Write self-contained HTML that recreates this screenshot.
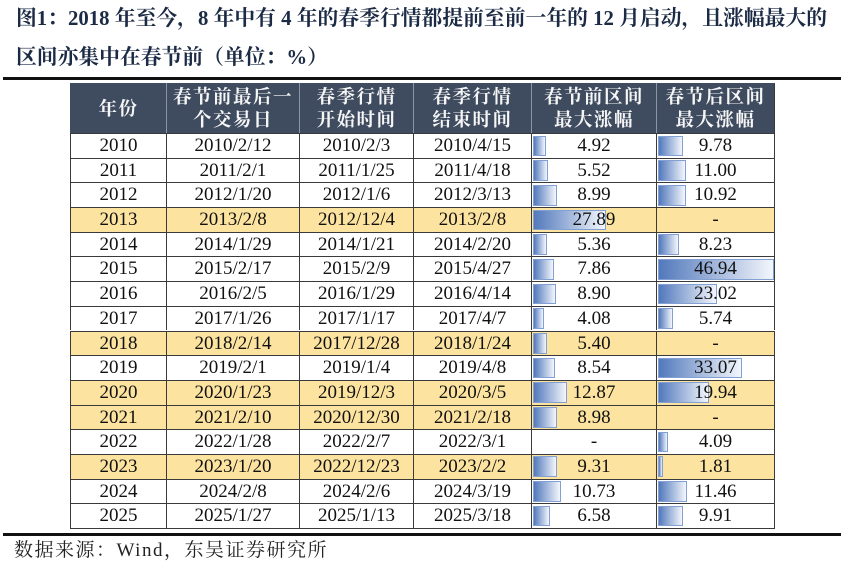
<!DOCTYPE html>
<html><head><meta charset="utf-8">
<style>
html,body{margin:0;padding:0;background:#fff;}
body{width:841px;height:569px;position:relative;overflow:hidden;}
.title{position:absolute;left:16px;font:bold 20.8px "Liberation Serif","Noto Serif CJK SC",serif;color:#1c2b45;line-height:24px;white-space:nowrap;}
.rule{position:absolute;left:3px;right:0;background:#111;}
.hdr{position:absolute;left:70px;top:83px;width:705px;height:50px;background:#3f4c60;display:flex;}
.hdr>div{box-sizing:border-box;height:100%;border-left:1px solid #8c95a3;display:flex;align-items:center;justify-content:center;text-align:center;color:#f6f6f6;font:bold 18.5px "Noto Serif CJK SC","Liberation Serif",serif;line-height:23px;letter-spacing:1.5px;}
.hdr>div:first-child{border-left:1px solid #3f4c60;}
.r{position:absolute;left:70px;width:705px;height:24.7px;display:flex;font:19px "Liberation Serif","Noto Serif CJK SC",serif;color:#111;}
.r>div{box-sizing:border-box;height:100%;border-left:1px solid #3a3a3a;border-top:1px solid #3a3a3a;text-align:center;line-height:23.5px;position:relative;}
.r>div:last-child,.hdr>div:last-child{border-right:1px solid #3a3a3a;}
.c1{width:96px}.c2{width:133px}.c3{width:114px}.c4{width:118px}.c5{width:125px}.c6{width:119px}
.y{background:#fce3a0;}
.b{position:absolute;left:1px;top:1.5px;bottom:1.5px;background:linear-gradient(to right,#5279bc,#f3f6fc);border:1px solid #82a0d4;box-sizing:border-box;}
.t{position:relative;}
.src{position:absolute;left:14px;top:540px;font:19px "Liberation Serif","Noto Serif CJK SC",serif;color:#222;letter-spacing:1.5px;line-height:22px;white-space:nowrap;}
</style></head><body>
<div class="title" style="top:7px">图1：2018 年至今，8 年中有 4 年的春季行情都提前至前一年的 12 月启动，且涨幅最大的</div>
<div class="title" style="top:46px">区间亦集中在春节前（单位：%）</div>
<div class="rule" style="top:77px;height:2.5px"></div>

<div class="hdr">
<div class="c1">年份</div>
<div class="c2">春节前最后一<br>个交易日</div>
<div class="c3">春季行情<br>开始时间</div>
<div class="c4">春季行情<br>结束时间</div>
<div class="c5">春节前区间<br>最大涨幅</div>
<div class="c6">春节后区间<br>最大涨幅</div>
</div>

<div class="r" style="top:133px"><div class="c1">2010</div><div class="c2">2010/2/12</div><div class="c3">2010/2/3</div><div class="c4">2010/4/15</div><div class="c5"><div class="b" style="width:12.9px"></div><span class="t">4.92</span></div><div class="c6"><div class="b" style="width:24.8px"></div><span class="t">9.78</span></div></div>
<div class="r" style="top:157.7px"><div class="c1">2011</div><div class="c2">2011/2/1</div><div class="c3">2011/1/25</div><div class="c4">2011/4/18</div><div class="c5"><div class="b" style="width:14.5px"></div><span class="t">5.52</span></div><div class="c6"><div class="b" style="width:27.9px"></div><span class="t">11.00</span></div></div>
<div class="r" style="top:182.4px"><div class="c1">2012</div><div class="c2">2012/1/20</div><div class="c3">2012/1/6</div><div class="c4">2012/3/13</div><div class="c5"><div class="b" style="width:23.6px"></div><span class="t">8.99</span></div><div class="c6"><div class="b" style="width:27.7px"></div><span class="t">10.92</span></div></div>
<div class="r" style="top:207.1px"><div class="c1 y">2013</div><div class="c2 y">2013/2/8</div><div class="c3 y">2012/12/4</div><div class="c4 y">2013/2/8</div><div class="c5 y"><div class="b" style="width:73px"></div><span class="t">27.89</span></div><div class="c6 y">-</div></div>
<div class="r" style="top:231.8px"><div class="c1">2014</div><div class="c2">2014/1/29</div><div class="c3">2014/1/21</div><div class="c4">2014/2/20</div><div class="c5"><div class="b" style="width:14px"></div><span class="t">5.36</span></div><div class="c6"><div class="b" style="width:20.9px"></div><span class="t">8.23</span></div></div>
<div class="r" style="top:256.4px"><div class="c1">2015</div><div class="c2">2015/2/17</div><div class="c3">2015/2/9</div><div class="c4">2015/4/27</div><div class="c5"><div class="b" style="width:20.6px"></div><span class="t">7.86</span></div><div class="c6"><div class="b" style="width:116px"></div><span class="t">46.94</span></div></div>
<div class="r" style="top:281.1px"><div class="c1">2016</div><div class="c2">2016/2/5</div><div class="c3">2016/1/29</div><div class="c4">2016/4/14</div><div class="c5"><div class="b" style="width:23.3px"></div><span class="t">8.90</span></div><div class="c6"><div class="b" style="width:58.5px"></div><span class="t">23.02</span></div></div>
<div class="r" style="top:305.8px"><div class="c1">2017</div><div class="c2">2017/1/26</div><div class="c3">2017/1/17</div><div class="c4">2017/4/7</div><div class="c5"><div class="b" style="width:10.7px"></div><span class="t">4.08</span></div><div class="c6"><div class="b" style="width:14.6px"></div><span class="t">5.74</span></div></div>
<div class="r" style="top:330.5px"><div class="c1 y">2018</div><div class="c2 y">2018/2/14</div><div class="c3 y">2017/12/28</div><div class="c4 y">2018/1/24</div><div class="c5 y"><div class="b" style="width:14.1px"></div><span class="t">5.40</span></div><div class="c6 y">-</div></div>
<div class="r" style="top:355.2px"><div class="c1">2019</div><div class="c2">2019/2/1</div><div class="c3">2019/1/4</div><div class="c4">2019/4/8</div><div class="c5"><div class="b" style="width:22.4px"></div><span class="t">8.54</span></div><div class="c6"><div class="b" style="width:84px"></div><span class="t">33.07</span></div></div>
<div class="r" style="top:379.9px"><div class="c1 y">2020</div><div class="c2 y">2020/1/23</div><div class="c3 y">2019/12/3</div><div class="c4 y">2020/3/5</div><div class="c5 y"><div class="b" style="width:33.7px"></div><span class="t">12.87</span></div><div class="c6 y"><div class="b" style="width:50.6px"></div><span class="t">19.94</span></div></div>
<div class="r" style="top:404.6px"><div class="c1 y">2021</div><div class="c2 y">2021/2/10</div><div class="c3 y">2020/12/30</div><div class="c4 y">2021/2/18</div><div class="c5 y"><div class="b" style="width:23.5px"></div><span class="t">8.98</span></div><div class="c6 y">-</div></div>
<div class="r" style="top:429.3px"><div class="c1">2022</div><div class="c2">2022/1/28</div><div class="c3">2022/2/7</div><div class="c4">2022/3/1</div><div class="c5">-</div><div class="c6"><div class="b" style="width:10.4px"></div><span class="t">4.09</span></div></div>
<div class="r" style="top:453.9px"><div class="c1 y">2023</div><div class="c2 y">2023/1/20</div><div class="c3 y">2022/12/23</div><div class="c4 y">2023/2/2</div><div class="c5 y"><div class="b" style="width:24.4px"></div><span class="t">9.31</span></div><div class="c6 y"><div class="b" style="width:5px"></div><span class="t">1.81</span></div></div>
<div class="r" style="top:478.6px"><div class="c1">2024</div><div class="c2">2024/2/8</div><div class="c3">2024/2/6</div><div class="c4">2024/3/19</div><div class="c5"><div class="b" style="width:28.1px"></div><span class="t">10.73</span></div><div class="c6"><div class="b" style="width:29.1px"></div><span class="t">11.46</span></div></div>
<div class="r" style="top:503.3px"><div class="c1">2025</div><div class="c2">2025/1/27</div><div class="c3">2025/1/13</div><div class="c4">2025/3/18</div><div class="c5"><div class="b" style="width:17.2px"></div><span class="t">6.58</span></div><div class="c6"><div class="b" style="width:25.2px"></div><span class="t">9.91</span></div></div>
<div style="position:absolute;left:70px;top:527.5px;width:705px;height:1px;background:#3a3a3a"></div>

<div class="rule" style="top:533px;height:3px"></div>
<div class="src">数据来源：Wind，东吴证券研究所</div>
</body></html>
